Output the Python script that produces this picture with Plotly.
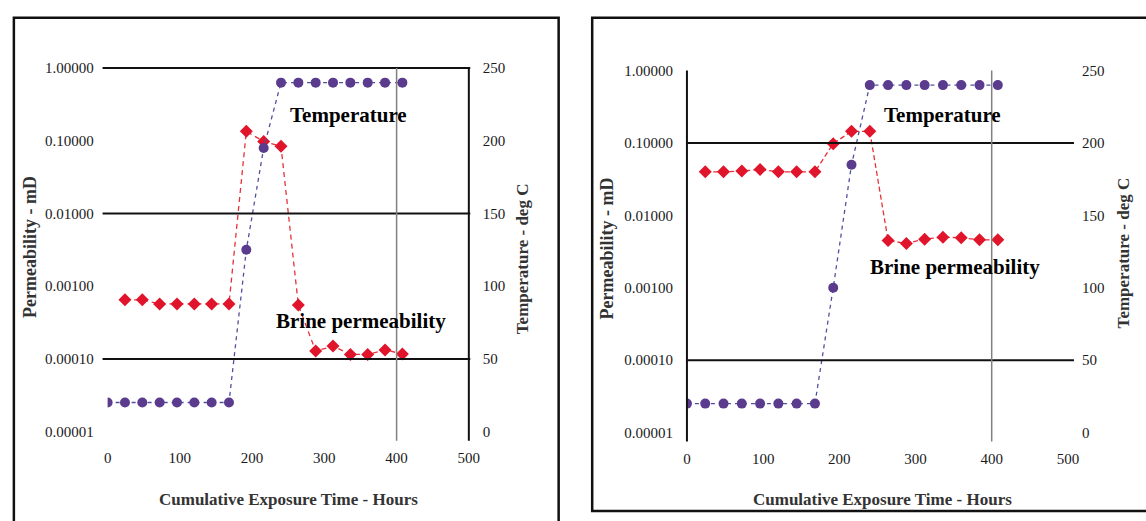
import plotly.graph_objects as go

# ---------------- data ----------------
hours_temp = [0, 24, 48, 72, 96, 120, 144, 168, 192, 216, 240, 264, 288, 312, 336, 360, 384, 408]
hours_brine = [24, 48, 72, 96, 120, 144, 168, 192, 216, 240, 264, 288, 312, 336, 360, 384, 408]

temp_left = [20, 20, 20, 20, 20, 20, 20, 20, 125, 195, 240, 240, 240, 240, 240, 240, 240, 240]
perm_left = [0.00065, 0.00065, 0.00057, 0.00057, 0.00057, 0.00057, 0.00057, 0.135, 0.098, 0.084,
             0.00055, 0.000128, 0.00015, 0.000115, 0.000115, 0.000133, 0.000117]

temp_right = [20, 20, 20, 20, 20, 20, 20, 20, 100, 185, 240, 240, 240, 240, 240, 240, 240, 240]
perm_right = [0.040, 0.040, 0.041, 0.043, 0.040, 0.040, 0.040, 0.098, 0.145, 0.145,
              0.0045, 0.0041, 0.0047, 0.0050, 0.0049, 0.0046, 0.0046]

perm_tickvals = [0.00001, 0.0001, 0.001, 0.01, 0.1, 1.0]
perm_ticktext = ["0.00001", "0.00010", "0.00100", "0.01000", "0.10000", "1.00000"]
temp_tickvals = [0, 50, 100, 150, 200, 250]
hour_tickvals = [0, 100, 200, 300, 400, 500]

# ---------------- style ----------------
W, H = 1146, 521
RED = "#e0142a"
RED_LINE = "#e8303a"
PURPLE = "#5a3b8e"
PURPLE_LINE = "#4f50a0"
FONT = "Liberation Serif"
TICKFONT = dict(family=FONT, size=15, color="#1a1a1a")


def px(x):
    return x / W


def py(y):
    return 1 - y / H


L_X = [px(105), px(471)]
L_Y = [py(437), py(62)]
R_X = [px(692), px(1078)]
R_Y = [py(438), py(64.6)]

fig = go.Figure()

# left panel
fig.add_trace(go.Scatter(x=hours_brine, y=perm_left, xaxis="x", yaxis="y", mode="lines+markers",
                         line=dict(color=RED_LINE, width=1.3, dash="5px,4px"),
                         marker=dict(symbol="diamond", size=10, color=RED), showlegend=False))
fig.add_trace(go.Scatter(x=hours_temp, y=temp_left, xaxis="x", yaxis="y2", mode="lines+markers",
                         line=dict(color=PURPLE_LINE, width=1.3, dash="4px,4px"),
                         marker=dict(symbol="circle", size=10, color=PURPLE), showlegend=False))
# right panel
fig.add_trace(go.Scatter(x=hours_brine, y=perm_right, xaxis="x2", yaxis="y3", mode="lines+markers",
                         line=dict(color=RED_LINE, width=1.3, dash="5px,3px"),
                         marker=dict(symbol="diamond", size=10, color=RED), showlegend=False))
fig.add_trace(go.Scatter(x=hours_temp, y=temp_right, xaxis="x2", yaxis="y4", mode="lines+markers",
                         line=dict(color=PURPLE_LINE, width=1.3, dash="4px,4px"),
                         marker=dict(symbol="circle", size=10, color=PURPLE), showlegend=False))

common_x = dict(range=[0, 500], tickvals=hour_tickvals, showgrid=False, zeroline=False, showline=False,
                ticks="outside", ticklen=12, tickcolor="rgba(0,0,0,0)", tickfont=TICKFONT)
common_perm = dict(type="log", range=[-5, 0], tickvals=perm_tickvals, ticktext=perm_ticktext,
                   showgrid=False, zeroline=False, showline=False, ticks="outside", ticklen=10,
                   tickcolor="rgba(0,0,0,0)", tickfont=TICKFONT)
common_temp = dict(range=[0, 250], tickvals=temp_tickvals, showgrid=False, zeroline=False, showline=False,
                   ticks="outside", ticklen=10, tickcolor="rgba(0,0,0,0)", tickfont=TICKFONT, side="right")

fig.update_layout(
    width=W, height=H, margin=dict(l=0, r=0, t=0, b=0),
    paper_bgcolor="white", plot_bgcolor="rgba(0,0,0,0)",
    xaxis=dict(domain=L_X, anchor="y", **common_x),
    yaxis=dict(domain=L_Y, anchor="x", **common_perm),
    yaxis2=dict(domain=L_Y, anchor="x", overlaying="y", **common_temp),
    xaxis2=dict(domain=R_X, anchor="y3", **common_x),
    yaxis3=dict(domain=R_Y, anchor="x2", **common_perm),
    yaxis4=dict(domain=R_Y, anchor="x2", overlaying="y3", **common_temp),
)

shapes = []
# left panel grid / axis lines
for frac in [1.0, 0.6, 0.2]:
    shapes.append(dict(type="line", xref="x domain", yref="y domain", x0=-0.014, x1=1.004, y0=frac, y1=frac,
                       line=dict(color="#111111", width=2)))
shapes.append(dict(type="line", xref="x domain", yref="y domain", x0=1.0, x1=1.0, y0=-0.025, y1=1.0,
                   line=dict(color="#111111", width=2)))
shapes.append(dict(type="line", xref="x", yref="y domain", x0=400, x1=400, y0=-0.025, y1=1.0,
                   line=dict(color="#808080", width=1.5)))
# right panel grid / axis lines
for frac in [0.8, 0.2]:
    shapes.append(dict(type="line", xref="x2 domain", yref="y3 domain", x0=0.0, x1=1.016, y0=frac, y1=frac,
                       line=dict(color="#111111", width=2)))
shapes.append(dict(type="line", xref="x2 domain", yref="y3 domain", x0=0.0, x1=0.0, y0=-0.025, y1=1.0,
                   line=dict(color="#111111", width=2)))
shapes.append(dict(type="line", xref="x2", yref="y3 domain", x0=400, x1=400, y0=-0.025, y1=1.0,
                   line=dict(color="#808080", width=1.5)))
# panel borders
shapes.append(dict(type="rect", xref="paper", yref="paper", x0=px(10), x1=px(562), y0=-0.02, y1=py(10),
                   line=dict(color="#111111", width=2.5), layer="below"))
shapes.append(dict(type="rect", xref="paper", yref="paper", x0=px(596), x1=1.02, y0=py(519), y1=py(10),
                   line=dict(color="#111111", width=2.5), layer="below"))
fig.update_layout(shapes=shapes)

ann = []


def label(text, x, y, size=16, bold=True, angle=0, color="#333333"):
    ann.append(dict(text=f"<b>{text}</b>" if bold else text, x=px(x), y=py(y), xref="paper", yref="paper",
                    showarrow=False, xanchor="center", yanchor="middle", textangle=angle,
                    font=dict(family=FONT, size=size, color=color)))


label("Temperature", 349, 110, size=21, color="#000000")
label("Brine permeability", 362, 323, size=21, color="#000000")
label("Temperature", 951, 110, size=21, color="#000000")
label("Brine permeability", 964, 267, size=21, color="#000000")

label("Permeability - mD", 27, 247, size=18, angle=-90)
label("Temperature - deg C", 525, 259, size=17, angle=-90)
label("Cumulative Exposure Time - Hours", 288, 507, size=17)
label("Permeability - mD", 611, 248, size=18, angle=-90)
label("Temperature - deg C", 1134, 253, size=17, angle=-90)
label("Cumulative Exposure Time - Hours", 890, 507, size=17)
fig.update_layout(annotations=ann)

fig.write_html("out.html", config={"displayModeBar": False},
               post_script="document.body.style.margin='0';document.body.style.overflow='hidden';")
